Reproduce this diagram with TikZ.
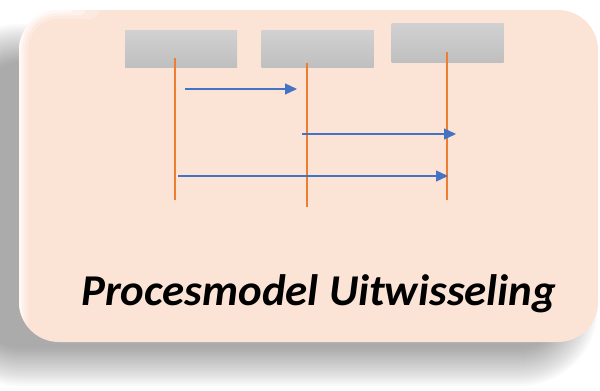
\documentclass[tikz,border=0pt]{standalone}
\usepackage{fontspec}
\setmainfont{Carlito}
\usetikzlibrary{arrows.meta}
\definecolor{peach}{HTML}{FBE3D6}
\definecolor{lifeorange}{HTML}{ED7D31}
\definecolor{msgblue}{HTML}{4472C4}
\tikzset{
  panel/.style={fill=peach, rounded corners=40pt},
  shadowlayer/.style={fill=black, fill opacity=0.02},
  glow/.style={draw=white, line cap=round},
  actor/.style={top color=gray!36, bottom color=gray!50, draw=none, minimum width=112pt, minimum height=37pt, inner sep=0pt},
  lifeline/.style={draw=lifeorange, line width=1.1pt},
  msg/.style={draw=msgblue, line width=1.3pt, -{Triangle[length=12pt,width=11pt]}},
}
\begin{document}
\begin{tikzpicture}[x=1pt,y=-1pt]
\useasboundingbox (0,0) rectangle (600,391);
\begin{scope}
\clip (0,0) rectangle (600,391);
\foreach \i in {0,...,19} {
  \pgfmathsetmacro{\r}{40+2*\i}
  \pgfmathsetmacro{\d}{2*\i}
  \fill[shadowlayer, rounded corners=\r pt] (-20-\d,62-\d) rectangle (560+\d,348+\d);
}
\end{scope}
\path[panel] (19,10) rectangle (598,342);
\begin{scope}
\clip[rounded corners=40pt] (19,10) rectangle (598,342);
\draw[glow, line width=18pt, opacity=0.25] (19,325) -- (19,50) .. controls (19,28) and (36,10) .. (60,10) -- (90,10);
\draw[glow, line width=11pt, opacity=0.35] (19,330) -- (19,50) .. controls (19,28) and (36,10) .. (60,10) -- (80,10);
\draw[glow, line width=5pt, opacity=0.6] (19,335) -- (19,50) .. controls (19,28) and (36,10) .. (60,10) -- (70,10);
\end{scope}
\node[actor] (a1) at (181,48.5) {};
\node[actor] (a2) at (317.5,48.5) {};
\node[actor, minimum height=39pt] (a3) at (447.5,42.5) {};
\coordinate (l1s) at (175,58); \coordinate (l1e) at (175,200);
\coordinate (l2s) at (307,63); \coordinate (l2e) at (307,207);
\coordinate (l3s) at (447,52); \coordinate (l3e) at (447,200);
\draw[lifeline] (l1s) -- (l1e);
\draw[lifeline] (l2s) -- (l2e);
\draw[lifeline] (l3s) -- (l3e);
\coordinate (m1s) at (185,89); \coordinate (m1e) at (297,89);
\coordinate (m2s) at (302,134); \coordinate (m2e) at (456,134);
\coordinate (m3s) at (178,176); \coordinate (m3e) at (448,176);
\draw[msg] (m1s) -- (m1e);
\draw[msg] (m2s) -- (m2e);
\draw[msg] (m3s) -- (m3e);
\node[font=\fontsize{44}{50}\selectfont\bfseries\itshape, anchor=base west, inner sep=0pt, xscale=1.02] (title) at (81,305) {Procesmodel Uitwisseling};
\end{tikzpicture}
\end{document}
